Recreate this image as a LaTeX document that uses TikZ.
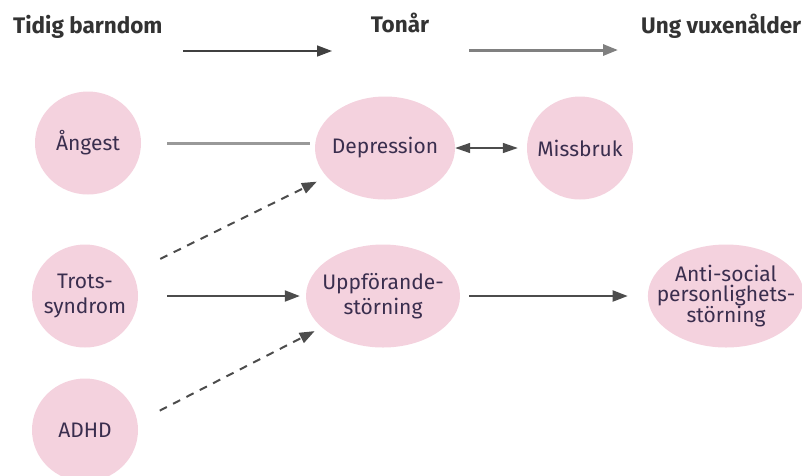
\documentclass[tikz,border=0pt]{standalone}
\usepackage{fontspec}
\setmainfont{Fira Sans}
\usetikzlibrary{arrows.meta, shapes.geometric}
\definecolor{blobpink}{RGB}{244,210,222}
\definecolor{blobtext}{RGB}{58,46,78}
\tikzstyle{blob} = [ellipse, fill=blobpink, inner xsep=-14pt, inner ysep=-4pt,
   minimum width=106pt, minimum height=103pt, align=center,
   text=blobtext, font=\fontsize{21}{25}\selectfont]
\tikzstyle{wideblob} = [blob, minimum width=154pt]
\tikzstyle{head} = [inner sep=0pt, text=black!80,
   font=\bfseries\fontsize{22.5}{26}\selectfont]
\tikzstyle{link} = [line width=2pt, draw=black!70,
   -{Triangle[length=15pt,width=11pt]}]
\tikzstyle{maybe} = [link, dash pattern=on 8pt off 7pt]
\tikzstyle{plain} = [line width=3pt, draw=black!40]

\begin{document}
\begin{tikzpicture}[x=1pt, y=-1pt]
  \useasboundingbox (0,0) rectangle (802,475);
  % time line
  \node[head, anchor=base west] (barn) at (13,33) {Tidig barndom};
  \node[head, anchor=base] (ton) at (400,32) {Tonår};
  \node[head, anchor=base west] (ung) at (641,33) {Ung vuxenålder};
  \coordinate (t1) at (183,51);
  \coordinate (t2) at (332,51);
  \coordinate (t3) at (469,50);
  \coordinate (t4) at (618,50);

  \node[blob] (ang) at (88,143) {Ångest};
  \node[blob, minimum width=140pt] (dep) at (385,148) {Depression};
  \node[blob, right of=dep, node distance=195pt] (miss) {Missbruk};
  \node[blob] (trots) at (85,296) {Trots-\\syndrom};
  \node[wideblob, right of=trots, node distance=298pt] (uppf) {Uppförande-\\störning};
  \node[wideblob, right of=uppf, node distance=343pt,
     font=\fontsize{21}{20}\selectfont] (anti) {Anti-social\\personlighets-\\störning};
  \node[blob, below of=trots, node distance=134pt] (adhd) {ADHD};

  % arrows
  \draw[link, line width=1.5pt, draw=black!75] (t1) -- (t2);
  \draw[link, line width=3pt, draw=black!50] (t3) -- (t4);
  \draw[plain, shorten <=26pt, shorten >=5pt] (ang.east) -- (ang.east -| dep.west);
  \draw[link, line width=1.5pt, {Triangle[length=15pt,width=10pt]}-{Triangle[length=15pt,width=10pt]},
     shorten >=9pt] (dep.east) -- (miss.west);
  \draw[maybe, shorten <=31pt, shorten >=11pt] (trots) -- (dep);
  \draw[link, shorten <=29pt, shorten >=6pt] (trots) -- (uppf);
  \draw[maybe, shorten <=84pt, shorten >=8pt] ([yshift=-19pt]adhd.center) -- (uppf);
  \draw[link, shorten <=9pt, shorten >=20pt] (uppf) -- (anti);
\end{tikzpicture}
\end{document}
